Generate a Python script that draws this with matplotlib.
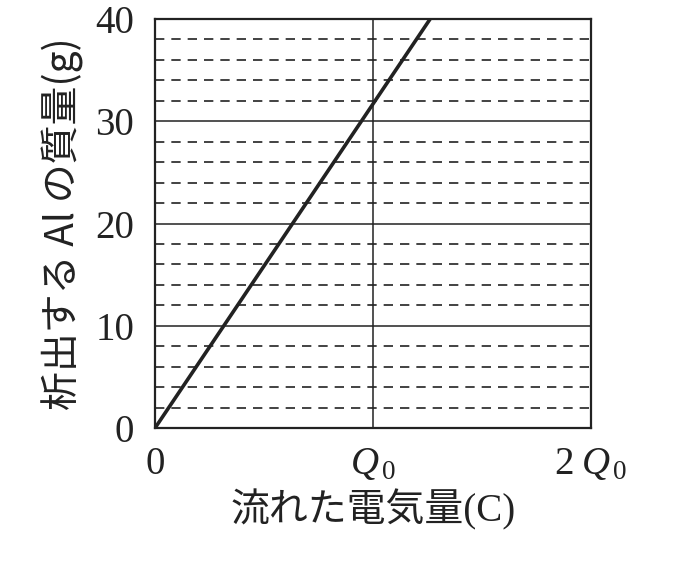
import matplotlib
matplotlib.use('Agg')
import matplotlib.pyplot as plt
from matplotlib.ticker import MultipleLocator

# --- データ ---
x_line = [0, 1.262]      # 単位: Q0
y_line = [0, 40]         # 析出する Al の質量 (g)
x_ticks = [0, 1, 2]
x_tick_labels = ['0', r'$Q_{\,0}$', r'$2\;Q_{\,0}$']
y_ticks = [0, 10, 20, 30, 40]

plt.rcParams['font.family'] = ['Liberation Serif', 'Noto Sans CJK JP']
plt.rcParams['mathtext.fontset'] = 'custom'
plt.rcParams['mathtext.rm'] = 'Liberation Serif'
plt.rcParams['mathtext.it'] = 'Liberation Serif:italic'

ink = '#222222'

fig = plt.figure(figsize=(6.86, 5.62), dpi=100)
ax = fig.add_axes([0.226, 0.2384, 0.6355, 0.7278])

ax.plot(x_line, y_line, color=ink, lw=2.6, solid_capstyle='butt', zorder=3)

ax.set_xlim(0, 2)
ax.set_ylim(0, 40)
ax.set_xticks(x_ticks)
ax.set_xticklabels(x_tick_labels)
ax.set_yticks(y_ticks)
ax.yaxis.set_minor_locator(MultipleLocator(2))

# 格子線
ax.grid(which='major', axis='both', color=ink, lw=1.1, ls='-')
ax.grid(which='minor', axis='y', color=ink, lw=1.2, ls=(0, (5.6, 4.2)))

ax.tick_params(which='both', length=0)
ax.tick_params(axis='y', pad=15, labelsize=28, colors=ink)
ax.tick_params(axis='x', pad=13, labelsize=28, colors=ink)

for s in ax.spines.values():
    s.set_linewidth(1.6)
    s.set_color(ink)

ax.set_xlabel('流れた電気量(C)', fontsize=28, color=ink,
              family=['Liberation Serif', 'Noto Sans CJK JP'], labelpad=4)
ax.set_ylabel('析出する Al の質量(g)', fontsize=28, color=ink,
              family=['Noto Sans CJK JP', 'Liberation Serif'], labelpad=8)

fig.savefig('out.png', dpi=100, facecolor='white')
